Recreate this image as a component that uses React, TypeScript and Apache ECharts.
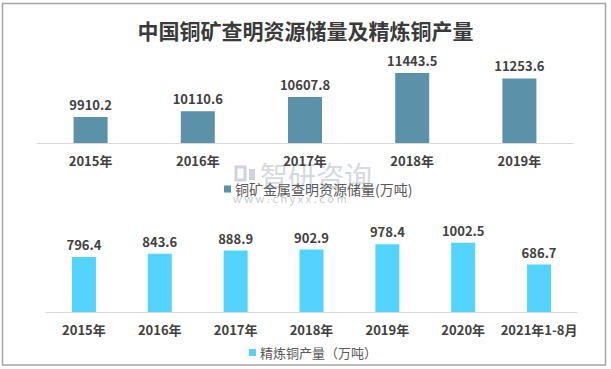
import React, { useEffect, useRef } from "react";
import * as echarts from "echarts";

const reserveYears = ["2015年", "2016年", "2017年", "2018年", "2019年"];
const reserveValues = [9910.2, 10110.6, 10607.8, 11443.5, 11253.6];
const reserveName = "铜矿金属查明资源储量(万吨)";

const productionYears = ["2015年", "2016年", "2017年", "2018年", "2019年", "2020年", "2021年1-8月"];
const productionValues = [796.4, 843.6, 888.9, 902.9, 978.4, 1002.5, 686.7];
const productionName = "精炼铜产量（万吨）";

const titleText = "中国铜矿查明资源储量及精炼铜产量";

const FONT = "'Noto Sans CJK SC', 'Noto Sans', sans-serif";

export default function App() {
  const ref = useRef<HTMLDivElement>(null);
  useEffect(() => {
    if (!ref.current) return;
    const chart = echarts.init(ref.current, undefined, { renderer: "svg" });
    const axisLabel = {
      color: "#404040",
      fontSize: 13,
      fontWeight: "bold" as const,
      fontFamily: FONT,
      margin: 11,
      interval: 0,
    };
    const dataLabel = {
      show: true,
      position: "top" as const,
      distance: 6,
      color: "#404040",
      fontSize: 13,
      fontWeight: "bold" as const,
      fontFamily: FONT,
      formatter: (p: any) => String(p.value),
    };
    chart.setOption({
      animation: false,
      backgroundColor: "#ffffff",
      title: {
        text: titleText,
        left: "center",
        top: 14,
        textStyle: { fontSize: 21, fontWeight: "bold", color: "#3a3a3a", fontFamily: FONT },
      },
      legend: [
        {
          data: [reserveName],
          left: 219,
          top: 177,
          icon: "rect",
          itemWidth: 7,
          itemHeight: 7,
          itemGap: 4,
          textStyle: { fontSize: 14, color: "#595959", fontFamily: FONT, padding: [0, 0, 0, -1] },
        },
        {
          data: [productionName],
          left: 244,
          top: 341,
          icon: "rect",
          itemWidth: 7,
          itemHeight: 7,
          textStyle: { fontSize: 13, color: "#595959", fontFamily: FONT, padding: [0, 0, 0, -1] },
        },
      ],
      grid: [
        { left: 37, right: 38, top: 57, bottom: 226 },
        { left: 46, right: 34, top: 229, bottom: 57 },
      ],
      xAxis: [
        {
          type: "category",
          gridIndex: 0,
          data: reserveYears,
          axisLine: { lineStyle: { color: "#d9d9d9", width: 1 } },
          axisTick: { show: false },
          axisLabel,
        },
        {
          type: "category",
          gridIndex: 1,
          data: productionYears,
          axisLine: { lineStyle: { color: "#d9d9d9", width: 1 } },
          axisTick: { show: false },
          axisLabel,
        },
      ],
      yAxis: [
        { type: "value", gridIndex: 0, min: 9000, max: 12000, show: false, splitLine: { show: false } },
        { type: "value", gridIndex: 1, min: 0, max: 1200, show: false, splitLine: { show: false } },
      ],
      graphic: [
        {
          type: "rect",
          z: 100,
          shape: { x: 2.5, y: 3.5, width: 603, height: 361.5 },
          style: { fill: "none", stroke: "#a6a6a6", lineWidth: 1.5 },
        },
        {
          type: "group",
          z: -10,
          children: [
            {
              type: "rect",
              shape: { x: 236, y: 167, width: 9, height: 13 },
              style: { fill: "none", stroke: "#cdd3e3", lineWidth: 3 },
              z: -10,
            },
            {
              type: "rect",
              shape: { x: 249, y: 169, width: 6, height: 11 },
              style: { fill: "#cdd3e3" },
              z: -10,
            },
            {
              type: "text",
              x: 260,
              y: 161,
              z: -10,
              style: {
                text: "智研咨询",
                fontSize: 28,
                fontFamily: FONT,
                fill: "#d6d9de",
              },
            },
            {
              type: "text",
              x: 233,
              y: 192,
              z: -10,
              style: {
                text: "w w w . c h y x x . c o m",
                fontSize: 11,
                fontFamily: FONT,
                fill: "#c8ccd2",
              },
            },
          ],
        },
      ],
      series: [
        {
          name: reserveName,
          type: "bar",
          xAxisIndex: 0,
          yAxisIndex: 0,
          data: reserveValues,
          barWidth: 34,
          itemStyle: { color: "#5b91a9" },
          label: dataLabel,
          z: 5,
        },
        {
          name: productionName,
          type: "bar",
          xAxisIndex: 1,
          yAxisIndex: 1,
          data: productionValues,
          barWidth: 24,
          itemStyle: { color: "#52d4fe" },
          label: dataLabel,
          z: 5,
        },
      ],
    });
    return () => chart.dispose();
  }, []);
  return (
    <div
      ref={ref}
      style={{ position: "fixed", left: 0, top: 0, width: 611, height: 369, background: "#fff" }}
    />
  );
}
